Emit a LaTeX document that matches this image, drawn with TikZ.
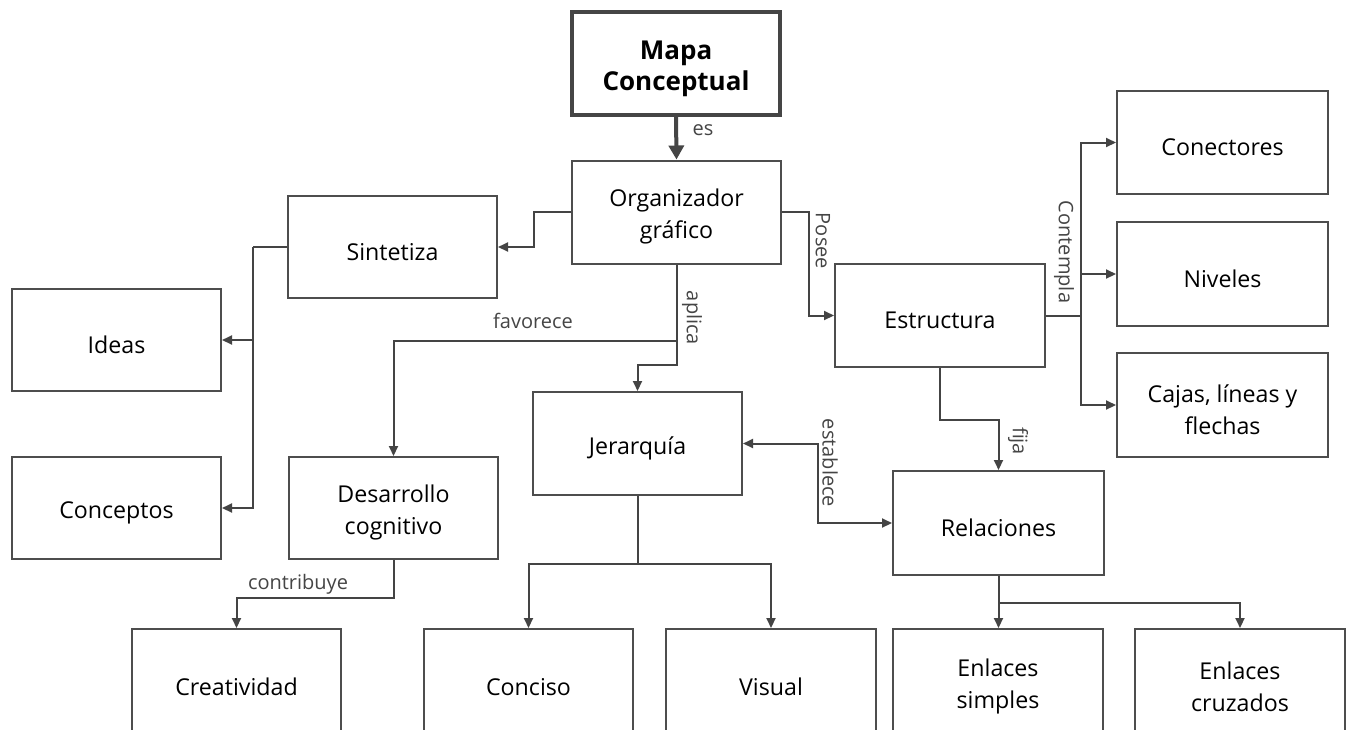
\documentclass[tikz,border=0pt]{standalone}
\usepackage{fontspec}
\setmainfont{Open Sans}
\usetikzlibrary{arrows.meta}
\definecolor{boxline}{HTML}{4D4D4D}
\definecolor{connline}{HTML}{444444}
\definecolor{lbltext}{HTML}{454545}
\newcommand\boxstrut{\rule{0pt}{27pt}}
\newcommand\mainstrut{\rule{0pt}{30pt}}
\tikzset{
  box/.style={draw=boxline, line width=2pt, rectangle, align=center,
    minimum width=209pt, minimum height=103pt, inner sep=0pt,
    font=\fontsize{23.2}{31.5}\selectfont, text=black},
  mainbox/.style={draw=boxline!90!black, line width=3.5pt, rectangle, align=center,
    minimum width=208pt, minimum height=103pt, inner sep=0pt,
    font=\fontsize{26}{31}\selectfont\bfseries, text=black},
  conn/.style={draw=connline, line width=2pt, -{Triangle[length=10pt,width=9pt]}},
  plain/.style={draw=connline, line width=2pt},
  biconn/.style={draw=connline, line width=2pt, {Triangle[length=10pt,width=9pt]}-{Triangle[length=10pt,width=9pt]}},
  mainconn/.style={draw=boxline!90!black, line width=4pt, -{Triangle[length=14pt,width=15pt]}},
  lbl/.style={font=\fontsize{20}{22}\selectfont, text=lbltext, inner sep=0pt},
}
\begin{document}
\begin{tikzpicture}[x=1pt,y=-1pt]
\useasboundingbox (0,0) rectangle (1351,729);
\clip (0,0) rectangle (1351,729);
\fill[white] (0,0) rectangle (1351,729);

% nodes
\node[mainbox] (mapa) at (676,63.5) {\mainstrut Mapa\\Conceptual};
\node[box] (org) at (676.5,212) {\boxstrut Organizador\\gráfico};
\node[box, minimum height=102pt] (sint) at (392.5,247) {\boxstrut Sintetiza};
\node[box, minimum height=102pt] (ideas) at (116.5,340) {\boxstrut Ideas};
\node[box, minimum height=102pt] (conc) at (116.5,508) {\boxstrut Conceptos};
\node[box, minimum height=102pt] (desa) at (393.5,508) {\boxstrut Desarrollo\\cognitivo};
\node[box] (jer) at (637.5,443.5) {\boxstrut Jerarquía};
\node[box, minimum width=210pt] (est) at (940,315.5) {\boxstrut Estructura};
\node[box, minimum width=211pt] (conect) at (1222.5,142.5) {\boxstrut Conectores};
\node[box, minimum width=211pt, minimum height=104pt] (niv) at (1222.5,274) {\boxstrut Niveles};
\node[box, minimum width=211pt, minimum height=104pt] (cajas) at (1222.5,405) {\boxstrut Cajas, líneas y\\flechas};
\node[box, minimum width=211pt, minimum height=104pt] (rel) at (998.5,523) {\boxstrut Relaciones};
\node[box, minimum height=106pt] (crea) at (236.5,682) {\boxstrut Creatividad};
\node[box, minimum height=106pt] (conciso) at (528.5,682) {\boxstrut Conciso};
\node[box, minimum width=210pt, minimum height=106pt] (visual) at (771,682) {\boxstrut Visual};
\node[box, minimum width=210pt, minimum height=106pt] (esimp) at (998,682) {\boxstrut Enlaces\\simples};
\node[box, minimum width=210pt, minimum height=106pt] (ecruz) at (1240,682) {\boxstrut Enlaces\\cruzados};

% connectors
\draw[mainconn] (mapa.south) -- (org.north);
\draw[conn] (org.west) -- ++(-37,0) |- (sint.east);
\draw[plain] (sint.west) -- ++(-34,0) coordinate (s1);
\draw[conn] (s1) |- (ideas.east);
\draw[conn] (s1) |- (conc.east);
\draw[plain] (org.south) -- ++(0,76) coordinate (f1);
\draw[conn] (f1) -- ++(0,24) -| (jer.north);
\draw[conn] (f1) -| (desa.north);
\draw[conn] (org.east) -- ++(27,0) |- (est.west);
\draw[plain] (est.east) -- ++(35,0) coordinate (e1);
\draw[conn] (e1) |- (conect.west);
\draw[conn] (e1) |- (niv.west);
\draw[conn] (e1) |- (cajas.west);
\draw[conn] (est.south) -- ++(0,52) -| (rel.north);
\draw[biconn] (jer.east) -- ++(75,0) |- (rel.west);
\draw[conn] (desa.south) -- ++(0,38) -| (crea.north);
\draw[plain] (jer.south) -- ++(0,68) coordinate (j1);
\draw[conn] (j1) -| (conciso.north);
\draw[conn] (j1) -| (visual.north);
\draw[conn] (rel.south) -- (rel.south |- esimp.north);
\draw[plain] (rel.south) -- ++(0,27) coordinate (r1);
\draw[conn] (r1) -| (ecruz.north);

% labels
\node[lbl] (les) at (703,130) {es};
\node[lbl] (lfav) at (533,321) {favorece};
\node[lbl, rotate=-90] (lapl) at (692,318) {aplica};
\node[lbl, rotate=-90] (lpos) at (823,241) {Posee};
\node[lbl, rotate=-90] (lcon) at (1064,252) {Contempla};
\node[lbl, rotate=-90] (lfij) at (1018,441) {fija};
\node[lbl, rotate=-90] (lest) at (830,463) {establece};
\node[lbl] (lcontr) at (298,584) {contribuye};
\end{tikzpicture}
\end{document}
